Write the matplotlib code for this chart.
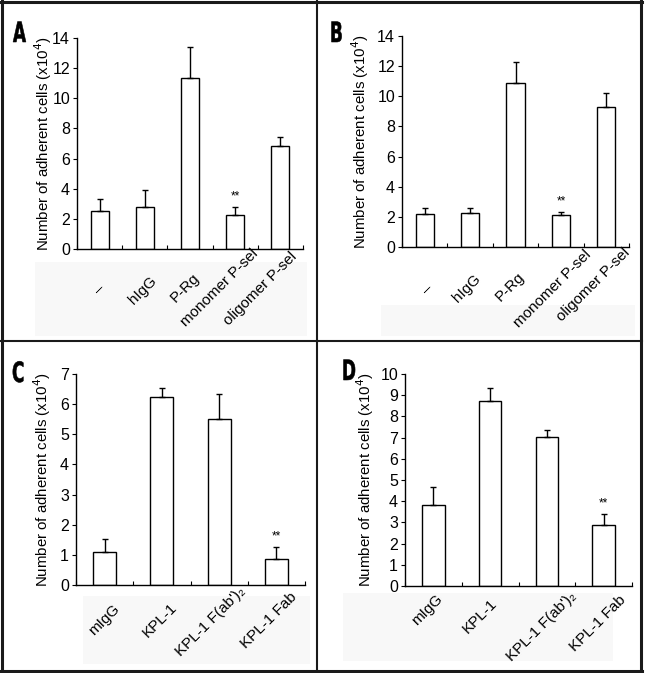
import matplotlib
matplotlib.use('Agg')
import matplotlib.pyplot as plt
from matplotlib.lines import Line2D
from matplotlib.patches import Rectangle, PathPatch
from matplotlib.textpath import TextPath
from matplotlib.font_manager import FontProperties
import matplotlib.transforms as mtransforms

plt.rcParams['font.family'] = ['Liberation Sans', 'DejaVu Sans']

W, H = 646, 673

# ---- data ----
sel_labels = ['\u2013', 'hIgG', 'P-Rg', 'monomer P-sel', 'oligomer P-sel']
a_vals = [2.5, 2.8, 11.35, 2.25, 6.85]
a_err = [0.8, 1.1, 2.05, 0.55, 0.6]
b_vals = [2.2, 2.25, 10.85, 2.1, 9.3]
b_err = [0.4, 0.35, 1.45, 0.2, 0.95]

kpl_labels = ['mIgG', 'KPL-1', "KPL-1 F(ab')\u2082", 'KPL-1 Fab']
c_vals = [1.1, 6.25, 5.5, 0.87]
c_err = [0.42, 0.3, 0.85, 0.4]
d_vals = [3.8, 8.72, 7.05, 2.87]
d_err = [0.85, 0.6, 0.33, 0.53]

sig_index = 3  # '**' marks the 4th group in every panel

# ---- layout (pixels) ----
# label centre offsets from category centre / x axis, as placed in the original
label_shift = {
    'A': [(0, 40), (-2, 41), (-5, 39), (-16, 39), (-20, 40)],
    'B': [(3, 42), (-3, 41), (-5, 40), (-8, 42), (-13, 38)],
    'C': [(0, 35), (-2, 35), (-9, 37), (-8, 35)],
    'D': [(-6, 24), (-10, 30), (-5, 41), (-6, 37)],
}


def px_rect(left, top, right, bottom):
    return [left / W, 1 - bottom / H, (right - left) / W, (bottom - top) / H]


fig = plt.figure(figsize=(W / 100, H / 100), dpi=100)
fig.patch.set_facecolor('white')

# faint grey boxes behind the category labels (scan artefacts)
for (l, t, r, b) in [(35, 262, 307, 336), (381, 305, 635, 336),
                     (83, 596, 310, 664), (343, 593, 613, 661)]:
    fig.add_artist(Rectangle((l / W, 1 - b / H), (r - l) / W, (b - t) / H,
                             transform=fig.transFigure, facecolor='#f8f8f8',
                             edgecolor='none', zorder=0))

panels = [
    ('A', (77, 38, 303, 249), sel_labels, a_vals, a_err, 14, 2, (13, 42), 54),
    ('B', (402, 36, 629, 247), sel_labels, b_vals, b_err, 14, 2, (330, 42), 371),
    ('C', (76, 374, 305, 585), kpl_labels, c_vals, c_err, 7, 1, (12, 382), 53),
    ('D', (405, 374, 632, 586), kpl_labels, d_vals, d_err, 10, 1, (342, 380), 376),
]

letter_fp = FontProperties(family='DejaVu Sans', weight='bold')

for letter, box, labels, vals, errs, ymax, ystep, lpos, ylab_x in panels:
    ax = fig.add_axes(px_rect(*box))
    ax.set_facecolor('none')
    n = len(vals)
    x = [i + 0.5 for i in range(n)]
    ax.bar(x, vals, width=0.4, color='white', edgecolor='black', linewidth=1.0, zorder=2)
    ax.errorbar(x, vals, yerr=[[0] * n, errs], fmt='none', ecolor='black',
                elinewidth=1.0, capsize=2.0, capthick=1.0, zorder=3)
    ax.text(x[sig_index], vals[sig_index] + errs[sig_index] + ymax * 0.022, '**',
            ha='center', va='bottom', fontsize=8.5)
    ax.set_xlim(0, n)
    ax.set_ylim(0, ymax)
    ax.set_yticks(range(0, ymax + 1, ystep))
    ax.set_xticks(range(0, n + 1))
    ax.set_xticklabels([])
    ax.tick_params(axis='x', direction='in', length=3, width=0.8)
    ax.tick_params(axis='y', direction='out', length=3, width=0.8, labelsize=11.5, pad=2)
    for s in ['top', 'right']:
        ax.spines[s].set_visible(False)
    for s in ['left', 'bottom']:
        ax.spines[s].set_linewidth(1.0)
    ax.set_ylabel('Number of adherent cells (x10$^4$)', fontsize=10.8)
    ax.yaxis.set_label_coords((ylab_x - box[0]) / (box[2] - box[0]), 0.5)

    for xi, lab, (dx, dy) in zip(x, labels, label_shift[letter]):
        tr = mtransforms.offset_copy(ax.transData, fig=fig, x=dx, y=-dy, units='dots')
        ax.text(xi, 0, lab, transform=tr, rotation=45, ha='center', va='center',
                rotation_mode='default', fontsize=11, clip_on=False)

    # condensed bold panel letter
    tp = TextPath((0, 0), letter, size=28, prop=letter_fp)
    trl = mtransforms.Affine2D().scale(0.6, 1.0).translate(lpos[0], H - lpos[1])
    fig.add_artist(PathPatch(tp, transform=trl + mtransforms.IdentityTransform(),
                             facecolor='black', edgecolor='black', linewidth=0.4))


# panel frame lines
def hline(y, x0, x1, lw):
    fig.add_artist(Line2D([x0 / W, x1 / W], [1 - y / H, 1 - y / H],
                          transform=fig.transFigure, color='#1a1a1a', linewidth=lw))


def vline(x, y0, y1, lw):
    fig.add_artist(Line2D([x / W, x / W], [1 - y0 / H, 1 - y1 / H],
                          transform=fig.transFigure, color='#1a1a1a', linewidth=lw))


hline(1.5, 0, 642, 2.2)
hline(671, 0, 642, 2.2)
vline(1.5, 0, 672, 2.2)
vline(641, 0, 672, 2.2)
vline(317, 0, 672, 1.5)
hline(341, 0, 642, 1.5)

fig.savefig('out.png', dpi=100)
